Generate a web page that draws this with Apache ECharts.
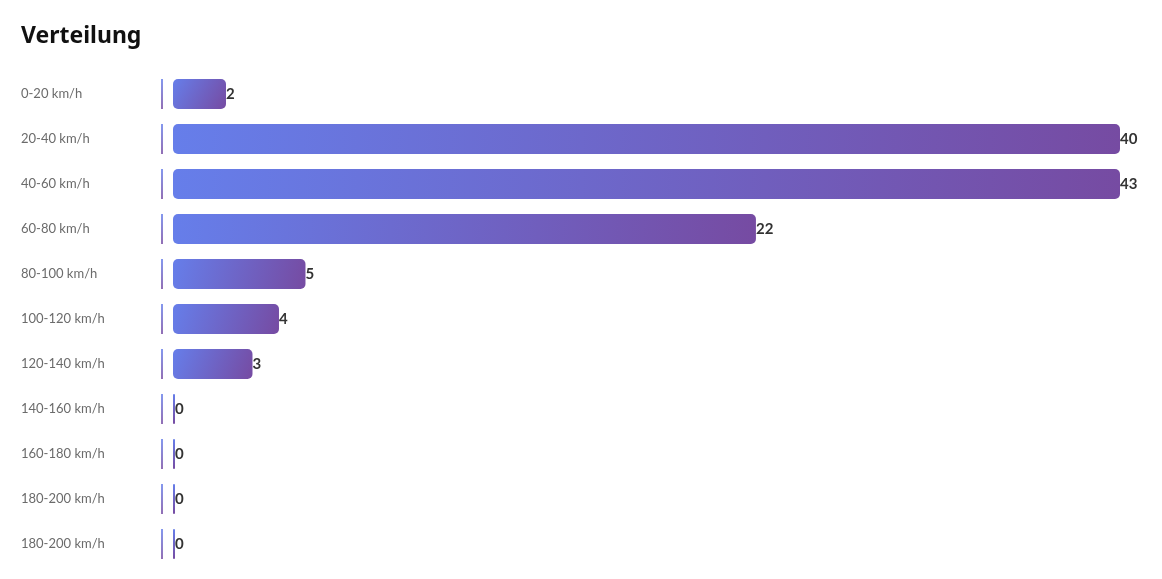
<!DOCTYPE html>
<html><head><meta charset="utf-8">
<script src="https://cdn.jsdelivr.net/npm/echarts@6/dist/echarts.min.js"></script>
<style>html,body{margin:0;padding:0;background:#fff}#c{width:1162px;height:579px}</style>
</head><body><div id="c"></div>
<script>
const categories = ['0-20 km/h','20-40 km/h','40-60 km/h','60-80 km/h','80-100 km/h','100-120 km/h','120-140 km/h','140-160 km/h','160-180 km/h','180-200 km/h','180-200 km/h'];
const values = [2,40,43,22,5,4,3,0,0,0,0];
const axisMax = 35.74; // bars are capped at the container width
const title = 'Verteilung';

const FONT = 'Lato, "Noto Sans", sans-serif';
const grad = (x2, y2) => new echarts.graphic.LinearGradient(0,0,x2,y2,[{offset:0,color:'#667eea'},{offset:1,color:'#764ba2'}]);

const chart = echarts.init(document.getElementById('c'), null, {renderer:'canvas'});
chart.setOption({
  animation:false,
  title:{text:title,left:21,top:25,padding:0,textStyle:{fontFamily:'"Noto Sans", sans-serif',fontSize:23,fontWeight:'bold',color:'#111'}},
  grid:{left:173,right:42,top:71.5,bottom:12.5,containLabel:false},
  xAxis:{type:'value',min:0,max:axisMax,show:false},
  yAxis:{type:'category',inverse:true,data:categories,
    axisLine:{show:false},axisTick:{show:false},splitLine:{show:false},
    axisLabel:{align:'left',margin:152,fontFamily:FONT,fontSize:13,color:'#6b6b6b',padding:[3,0,0,0]}},
  series:[
    {type:'bar',barWidth:30,barMinHeight:2,
     data:values.map(v=>Math.min(v,axisMax)),
     itemStyle:{color:grad(1,1),borderRadius:5},
     label:{show:true,position:'right',distance:0,fontFamily:FONT,fontSize:15,fontWeight:'bold',color:'#333',padding:[3,0,0,0],
       formatter:p=>String(values[p.dataIndex])}},
    {type:'scatter',data:values.map(()=>0),symbol:'rect',symbolSize:[2,30],symbolOffset:[-11,0],
     itemStyle:{color:grad(0,1)},silent:true,z:1}
  ]
});
</script></body></html>
